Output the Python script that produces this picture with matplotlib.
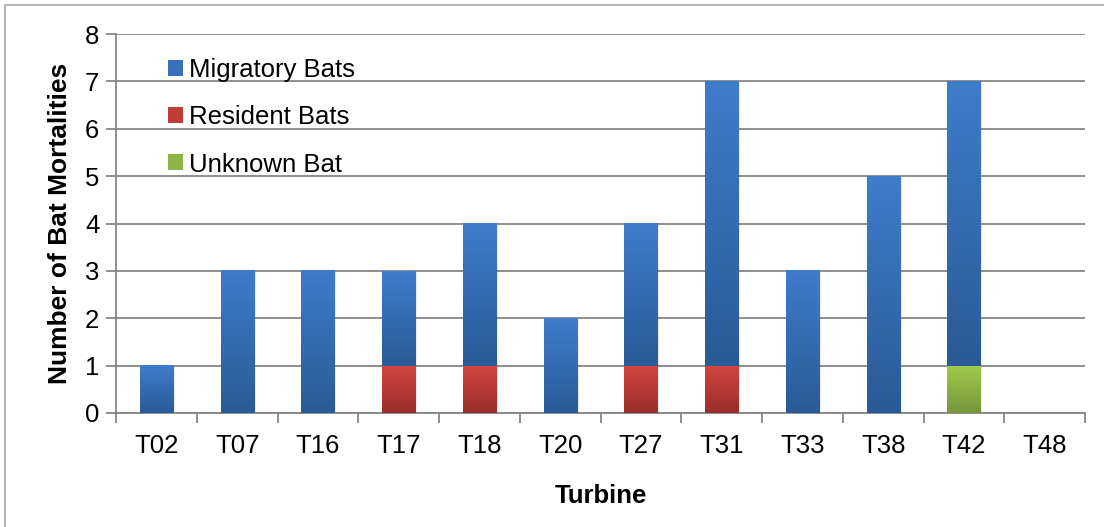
import numpy as np
import matplotlib
matplotlib.use("Agg")
import matplotlib.pyplot as plt
from matplotlib.colors import LinearSegmentedColormap
from matplotlib.patches import Rectangle, Patch

plt.rcParams['font.family'] = ['Liberation Sans', 'DejaVu Sans']

turbines = ["T02", "T07", "T16", "T17", "T18", "T20", "T27", "T31", "T33", "T38", "T42", "T48"]
resident = [0, 0, 0, 1, 1, 0, 1, 1, 0, 0, 0, 0]
unknown = [0, 0, 0, 0, 0, 0, 0, 0, 0, 0, 1, 0]
migratory = [1, 3, 3, 2, 3, 2, 3, 6, 3, 5, 6, 0]

series = [
    ("Resident Bats", resident, ("#D2463F", "#9A2D2A")),
    ("Unknown Bat", unknown, ("#A0CB4C", "#76963A")),
    ("Migratory Bats", migratory, ("#3E7DCB", "#2A5A97")),
]

fig = plt.figure(figsize=(11.04, 5.27), dpi=100)
ax = fig.add_axes([116 / 1104, 1 - 413 / 527, (1085 - 116) / 1104, (413 - 34) / 527])

# outer chart border
fig.patches.append(Rectangle((5 / 1104, -0.1), 1.2, 1 - 5 / 527 + 0.1,
                             transform=fig.transFigure, fill=False,
                             edgecolor="#A6A6A6", linewidth=1.2, zorder=0))

x = np.arange(len(turbines))
width = 0.41
bottom = np.zeros(len(turbines))
grad = np.linspace(1, 0, 256).reshape(-1, 1)

for name, vals, (top_c, bot_c) in series:
    vals = np.array(vals, dtype=float)
    bars = ax.bar(x, vals, width, bottom=bottom, color="none", edgecolor="none", zorder=3)
    cmap = LinearSegmentedColormap.from_list(name, [bot_c, top_c])
    for rect in bars:
        h = rect.get_height()
        if h <= 0:
            continue
        x0, y0, w = rect.get_x(), rect.get_y(), rect.get_width()
        # soft drop shadow
        ax.add_patch(Rectangle((x0 + 0.025, y0 - 0.03), w, h, facecolor="#000000",
                               alpha=0.07, edgecolor="none", zorder=2))
        ax.imshow(grad, extent=(x0, x0 + w, y0, y0 + h), cmap=cmap,
                  aspect="auto", origin="upper", zorder=3, vmin=0, vmax=1)
    bottom += vals

ax.set_xlim(-0.5, len(turbines) - 0.5)
ax.set_ylim(0, 8)
ax.set_yticks(range(0, 9))
ax.set_xticks(x)
ax.set_xticklabels(turbines)
ax.set_xticks(np.arange(-0.5, len(turbines)), minor=True)

ax.tick_params(axis="x", which="major", length=0, pad=15, labelsize=18.5)
ax.tick_params(axis="x", which="minor", length=7, width=1.3, color="#868686")
ax.tick_params(axis="y", length=7, width=1.3, color="#868686", labelsize=18.5, pad=5)

ax.grid(axis="y", color="#868686", linewidth=1.3, zorder=1)
ax.set_axisbelow(True)
for s in ("top", "right"):
    ax.spines[s].set_visible(False)
for s in ("left", "bottom"):
    ax.spines[s].set_color("#868686")
    ax.spines[s].set_linewidth(1.3)

ax.set_ylabel("Number of Bat Mortalities", fontsize=19, fontweight="bold", labelpad=9)
ax.set_xlabel("Turbine", fontsize=18.5, fontweight="bold", labelpad=19)

handles = [Patch(facecolor="#3570B8", label="Migratory Bats"),
           Patch(facecolor="#C03C38", label="Resident Bats"),
           Patch(facecolor="#8DB444", label="Unknown Bat")]
ax.legend(handles=handles, loc="upper left", bbox_to_anchor=(0.043, 0.963), frameon=False,
          fontsize=18.5, labelspacing=0.9, handlelength=0.58, handleheight=0.58,
          handletextpad=0.22, borderaxespad=0)

fig.savefig("out.png", dpi=100)
